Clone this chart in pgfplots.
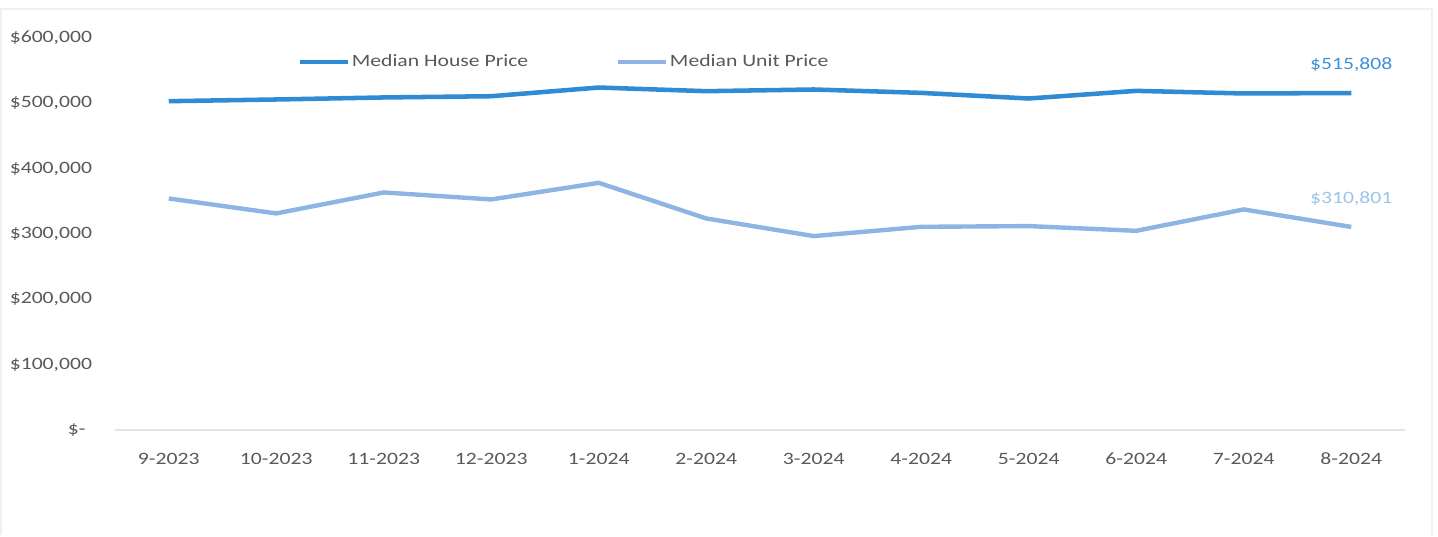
\documentclass[border=0pt]{standalone}
\usepackage{pgfplots}
\pgfplotsset{compat=1.18}
\usepackage{fontspec}
\setmainfont{Carlito}[FakeStretch=1.25]
\definecolor{house}{HTML}{2F8BD3}
\definecolor{unit}{HTML}{8EB4E3}
\definecolor{houselbl}{HTML}{3D91D8}
\definecolor{unitlbl}{HTML}{9DC3E6}
\definecolor{ticktxt}{HTML}{595959}
\begin{document}
\begin{tikzpicture}[font=\fontsize{13}{15}\selectfont]
\begin{axis}[
  scale only axis, width=967.5pt, height=294pt,
  xmin=-0.5, xmax=11.5, ymin=0, ymax=600000,
  scaled y ticks=false,
  xtick={0,...,11},
  xticklabels={9-2023,10-2023,11-2023,12-2023,1-2024,2-2024,3-2024,4-2024,5-2024,6-2024,7-2024,8-2024},
  ytick={0,100000,200000,300000,400000,500000,600000},
  yticklabels={{\$-\kern5pt\strut},{\$100,000},{\$200,000},{\$300,000},{\$400,000},{\$500,000},{\$600,000}},
  major tick length=0pt,
  axis x line*=bottom, axis y line*=left,
  y axis line style={draw=none},
  x axis line style={draw=gray!22, line width=1.5pt, -},
  tick label style={text=ticktxt, inner sep=0pt},
  xticklabel style={anchor=north, yshift=-17pt},
  yticklabel style={anchor=east, xshift=-17pt},
  legend style={at={(rel axis cs:0.1411,0.939)}, anchor=west, draw=none, fill=none,
    text=ticktxt, inner sep=0pt, nodes={inner sep=1.5pt},
    /tikz/every even column/.append style={column sep=64pt}},
  legend columns=2,
  legend image code/.code={\draw[#1] (0pt,0pt) -- (36pt,0pt);},
  clip=false,
]
\addplot[house, line width=3.4pt] coordinates {
(0,503300) (1,505900) (2,509000) (3,510900) (4,524200) (5,518600)
(6,521200) (7,516000) (8,507400) (9,519100) (10,515100) (11,515808)};
\addplot[unit, line width=3.3pt] coordinates {
(0,354400) (1,331500) (2,363600) (3,352900) (4,378300) (5,323800)
(6,296800) (7,311000) (8,312100) (9,304900) (10,337600) (11,310801)};
\legend{Median House Price, Median Unit Price}
\node[text=houselbl, yshift=21.5pt] at (axis cs:11,515808) {\$515,808};
\node[text=unitlbl, yshift=21.5pt] at (axis cs:11,310801) {\$310,801};
\end{axis}
\path (-86.25pt,-78.75pt) rectangle (992.25pt,322.5pt);
\draw[black!6, line width=1pt] (-85.5pt,-79pt) -- (-85.5pt,315.75pt) -- (987.75pt,315.75pt) -- (987.75pt,-79pt);
\end{tikzpicture}
\end{document}
